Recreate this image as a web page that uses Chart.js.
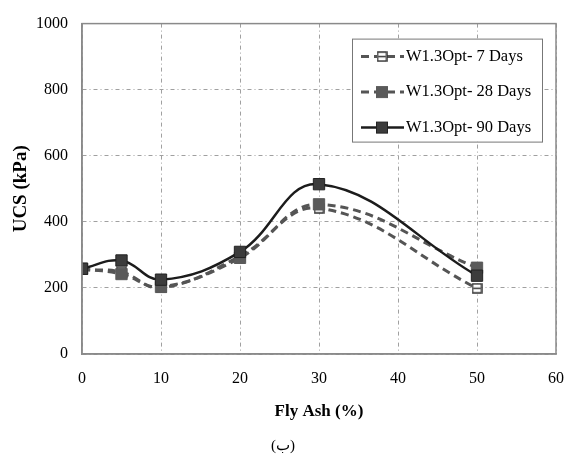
<!DOCTYPE html>
<html>
<head>
<meta charset="utf-8">
<script src="https://cdn.jsdelivr.net/npm/chart.js@4/dist/chart.umd.min.js"></script>
<style>
    html, body { margin: 0; padding: 0; background: #fff; }
    #wrap { width: 566px; height: 455px; }
</style>
</head>
<body>
<div id="wrap"><canvas id="chart"></canvas></div>
<script>
// fly ash content (%)
const flyAsh = [0, 5, 10, 20, 30, 50];

// UCS (kPa)
const ucs7 = [255, 248, 200, 296, 441, 199];
const ucs28 = [258, 242, 203, 291, 453, 261];
const ucs90 = [258, 283, 225, 309, 514, 237];

const seriesNames = ['W1.3Opt- 7 Days', 'W1.3Opt- 28 Days', 'W1.3Opt- 90 Days'];

const xTicks = [0, 10, 20, 30, 40, 50, 60];
const yTicks = [0, 200, 400, 600, 800, 1000];

const serif = "'Liberation Serif', 'Times New Roman', serif";

// hollow square with a bar through it, like the excel marker
function hollowMarker(size) {
    const c = document.createElement('canvas');
    c.width = size; c.height = size;
    const g = c.getContext('2d');
    g.fillStyle = '#fff';
    g.fillRect(1, 1, size - 2, size - 2);
    g.strokeStyle = '#333';
    g.lineWidth = 1.5;
    g.strokeRect(1, 1, size - 2, size - 2);
    g.beginPath();
    g.moveTo(2, size / 2);
    g.lineTo(size - 2, size / 2);
    g.stroke();
    return c;
}

const marker7 = hollowMarker(11);

function pts(vals) {
    return flyAsh.map((x, i) => ({x, y: vals[i]}));
}

const datasets = [
    {
        label: seriesNames[0],
        data: pts(ucs7),
        borderColor: '#555',
        borderWidth: 3,
        borderDash: [8, 5],
        pointStyle: marker7,
        order: 3,
    },
    {
        label: seriesNames[1],
        data: pts(ucs28),
        borderColor: '#555',
        borderWidth: 3,
        borderDash: [8, 5],
        pointStyle: 'rect',
        pointRadius: 8,
        pointBackgroundColor: '#5a5a5a',
        pointBorderColor: '#5a5a5a',
        pointBorderWidth: 1,
        order: 2,
    },
    {
        label: seriesNames[2],
        data: pts(ucs90),
        borderColor: '#1c1c1c',
        borderWidth: 2.5,
        pointStyle: 'rect',
        pointRadius: 8,
        pointBackgroundColor: '#3c3c3c',
        pointBorderColor: '#222',
        pointBorderWidth: 1,
        order: 1,
    },
];

// frame around the plot + legend box in the top right corner
const framePlugin = {
    id: 'frame',
    afterDraw(chart) {
        const {ctx, chartArea: a} = chart;
        ctx.save();
        ctx.strokeStyle = '#8a8a8a';
        ctx.lineWidth = 1.5;
        ctx.strokeRect(a.left, a.top, a.right - a.left, a.bottom - a.top);

        const bx = a.right - 204, by = a.top + 15, bw = 190, bh = 103;
        ctx.fillStyle = '#fff';
        ctx.fillRect(bx, by, bw, bh);
        ctx.strokeStyle = '#777';
        ctx.lineWidth = 1;
        ctx.strokeRect(bx + 0.5, by + 0.5, bw, bh);

        ctx.font = '16.5px ' + serif;
        ctx.textBaseline = 'middle';
        ctx.textAlign = 'left';
        chart.data.datasets.forEach((ds, i) => {
            const cy = by + 18 + i * 35.5;
            ctx.save();
            ctx.strokeStyle = ds.borderColor;
            ctx.lineWidth = ds.borderWidth;
            ctx.setLineDash(ds.borderDash || []);
            ctx.beginPath();
            ctx.moveTo(bx + 9, cy);
            ctx.lineTo(bx + 52, cy);
            ctx.stroke();
            ctx.restore();
            const mx = bx + 30;
            if (i === 0) {
                ctx.fillStyle = '#fff';
                ctx.fillRect(mx - 5, cy - 5, 10, 10);
                ctx.drawImage(marker7, mx - 5.5, cy - 5.5);
            } else {
                ctx.fillStyle = ds.pointBackgroundColor;
                ctx.fillRect(mx - 5.5, cy - 5.5, 11, 11);
                ctx.strokeStyle = ds.pointBorderColor;
                ctx.strokeRect(mx - 5.5, cy - 5.5, 11, 11);
            }
            ctx.fillStyle = '#000';
            ctx.fillText(ds.label, bx + 54, cy);
        });
        ctx.restore();
    }
};

new Chart(document.getElementById('chart'), {
    type: 'line',
    data: {datasets},
    plugins: [framePlugin],
    options: {
        responsive: true,
        maintainAspectRatio: false,
        animation: false,
        layout: {padding: {top: 20, right: 0, left: 0, bottom: 0}},
        elements: {
            line: {tension: 0.4, fill: false},
        },
        plugins: {
            legend: {display: false},
            tooltip: {enabled: false},
            title: {
                display: true,
                position: 'bottom',
                text: '(ب)',
                color: '#000',
                font: {family: serif, size: 15, weight: 'normal'},
                padding: {top: 0, bottom: 0},
            },
        },
        scales: {
            x: {
                type: 'linear',
                min: 0,
                max: 60,
                afterBuildTicks: s => { s.ticks = xTicks.map(v => ({value: v})); },
                afterFit: s => {
                    s.height = 83;
                    s.paddingLeft = 0;
                    s.paddingRight = 10;
                },
                ticks: {
                    color: '#000',
                    font: {family: serif, size: 16},
                    padding: 15,
                    maxRotation: 0,
                    callback: v => String(v),
                },
                grid: {
                    color: '#a0a0a0',
                    drawTicks: false,
                },
                border: {color: '#8a8a8a', width: 1.5, dash: [4, 3, 1, 3]},
                title: {
                    display: true,
                    text: 'Fly Ash (%)',
                    color: '#000',
                    font: {family: serif, size: 17, weight: 'bold'},
                    padding: {top: 0, bottom: 15},
                },
            },
            y: {
                min: 0,
                max: 1000,
                afterBuildTicks: s => { s.ticks = yTicks.map(v => ({value: v})); },
                afterFit: s => { s.width = 82; },
                ticks: {
                    color: '#000',
                    font: {family: serif, size: 16},
                    padding: 14,
                    callback: v => String(v),
                },
                grid: {
                    color: '#a0a0a0',
                    drawTicks: false,
                },
                border: {color: '#8a8a8a', width: 1.5, dash: [4, 3, 1, 3]},
                title: {
                    display: true,
                    text: 'UCS (kPa)',
                    color: '#000',
                    font: {family: serif, size: 19, weight: 'bold'},
                    padding: {top: 10, bottom: 0},
                },
            },
        },
    },
});
</script>
</body>
</html>
